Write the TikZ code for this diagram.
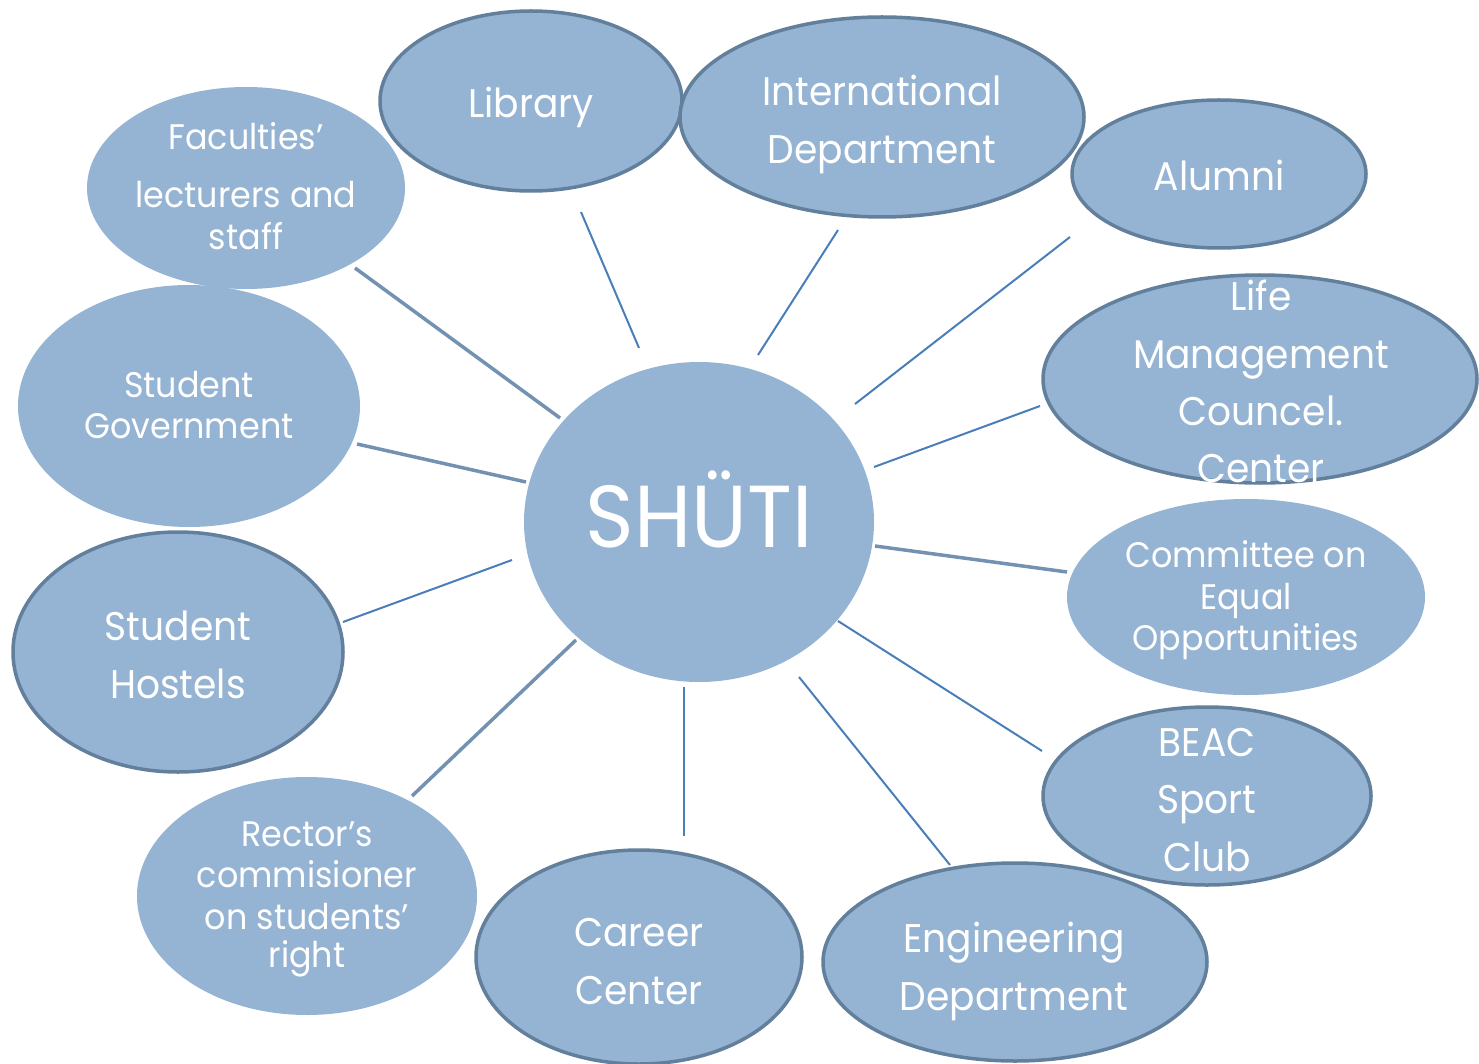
\documentclass[tikz,border=0pt]{standalone}
\usepackage{fontspec}
\setmainfont{Poppins}[FakeStretch=0.94]
\usetikzlibrary{shapes.geometric}
\definecolor{fillc}{HTML}{95B3D3}
\definecolor{edgec}{HTML}{627F9C}
\definecolor{darkln}{HTML}{7392B2}
\definecolor{blueln}{HTML}{4A7EBB}
\tikzset{
  bub/.style={ellipse, fill=fillc, draw=none, inner sep=0pt},
  bubb/.style={bub, draw=edgec, line width=3.5pt},
  lbl/.style={anchor=base, text=white, inner sep=0pt, font=\fontsize{40}{40}\selectfont},
  slbl/.style={lbl, font=\fontsize{35.5}{35.5}\selectfont},
  dk/.style={draw=darkln, line width=3.5pt},
  bl/.style={draw=blueln, line width=2pt},
}
\begin{document}
\begin{tikzpicture}[x=1pt,y=-1pt]
\useasboundingbox (0,0) rectangle (1479,1064);
% connector end points
\coordinate (a1) at (355,268); \coordinate (b1) at (560,418);
\coordinate (a2) at (581,212); \coordinate (b2) at (639,348);
\coordinate (a3) at (838,230); \coordinate (b3) at (758,355);
\coordinate (a4) at (1070,237); \coordinate (b4) at (855,404);
\coordinate (a5) at (1040,406); \coordinate (b5) at (874,467);
\coordinate (a6) at (1067,572); \coordinate (b6) at (875,546);
\coordinate (a7) at (1042,751); \coordinate (b7) at (838,621);
\coordinate (a8) at (950,865); \coordinate (b8) at (799,677);
\coordinate (a9) at (684,836); \coordinate (b9) at (684,687);
\coordinate (a10) at (412,796); \coordinate (b10) at (576,640);
\coordinate (a11) at (343,622); \coordinate (b11) at (512,560);
\coordinate (a12) at (357,444); \coordinate (b12) at (526,482);
\draw[dk] (a1) -- (b1);
\draw[bl] (a2) -- (b2);
\draw[bl] (a3) -- (b3);
\draw[bl] (a4) -- (b4);
\draw[bl] (a5) -- (b5);
\draw[dk] (a6) -- (b6);
\draw[bl] (a7) -- (b7);
\draw[bl] (a8) -- (b8);
\draw[bl] (a9) -- (b9);
\draw[dk] (a10) -- (b10);
\draw[bl] (a11) -- (b11);
\draw[dk] (a12) -- (b12);
% bubbles
\node[bub, minimum width=318pt, minimum height=202pt] (fac) at (246,188) {};
\node[bubb, minimum width=302pt, minimum height=180pt] (lib) at (531,101) {};
\node[bubb, minimum width=404pt, minimum height=200pt] (intl) at (882,117) {};
\node[bubb, minimum width=294pt, minimum height=148pt] (alum) at (1219,174) {};
\node[bubb, minimum width=434pt, minimum height=208pt] (life) at (1260,379) {};
\node[bub, minimum width=358pt, minimum height=196pt] (ceo) at (1246,597) {};
\node[bubb, minimum width=328pt, minimum height=178pt] (beac) at (1207,796) {};
\node[bubb, minimum width=384pt, minimum height=198pt] (eng) at (1015,962) {};
\node[bubb, minimum width=326pt, minimum height=214pt] (car) at (639,957) {};
\node[bub, minimum width=340pt, minimum height=238pt] (rec) at (307,896) {};
\node[bubb, minimum width=330pt, minimum height=240pt] (hos) at (178,652) {};
\node[bub, minimum width=342pt, minimum height=242pt] (gov) at (189,406) {};
\node[bub, minimum width=350pt, minimum height=320pt] (shu) at (699,522) {};
% labels
\node[slbl] (t1a) at (246,150) {Faculties’};
\node[slbl] (t1b) at (246,208) {lecturers and};
\node[slbl] (t1c) at (246,250) {staff};
\node[lbl] (t2) at (531,118) {Library};
\node[lbl] (t3a) at (882,106) {International};
\node[lbl] (t3b) at (882,164) {Department};
\node[lbl] (t4) at (1219,191) {Alumni};
\node[lbl] (t5a) at (1261,310) {Life};
\node[lbl] (t5b) at (1261,368) {Management};
\node[lbl] (t5c) at (1261,425) {Councel.};
\node[lbl] (t5d) at (1261,482) {Center};
\node[slbl] (t6a) at (1246,567) {Committee on};
\node[slbl] (t6b) at (1246,609) {Equal};
\node[slbl] (t6c) at (1246,650) {Opportunities};
\node[lbl] (t7a) at (1207,756) {BEAC};
\node[lbl] (t7b) at (1207,813) {Sport};
\node[lbl] (t7c) at (1207,871) {Club};
\node[lbl] (t8a) at (1014,952) {Engineering};
\node[lbl] (t8b) at (1014,1010) {Department};
\node[lbl] (t9a) at (639,946) {Career};
\node[lbl] (t9b) at (639,1004) {Center};
\node[slbl] (t10a) at (307,846) {Rector’s};
\node[slbl] (t10b) at (307,887) {commisioner};
\node[slbl] (t10c) at (307,929) {on students’};
\node[slbl] (t10d) at (307,967) {right};
\node[lbl] (t11a) at (178,640) {Student};
\node[lbl] (t11b) at (178,698) {Hostels};
\node[slbl] (t12a) at (189,397) {Student};
\node[slbl] (t12b) at (189,438) {Government};
\node[lbl, font=\fontsize{88}{88}\selectfont] (t13) at (699,547) {SHÜTI};
\end{tikzpicture}
\end{document}
